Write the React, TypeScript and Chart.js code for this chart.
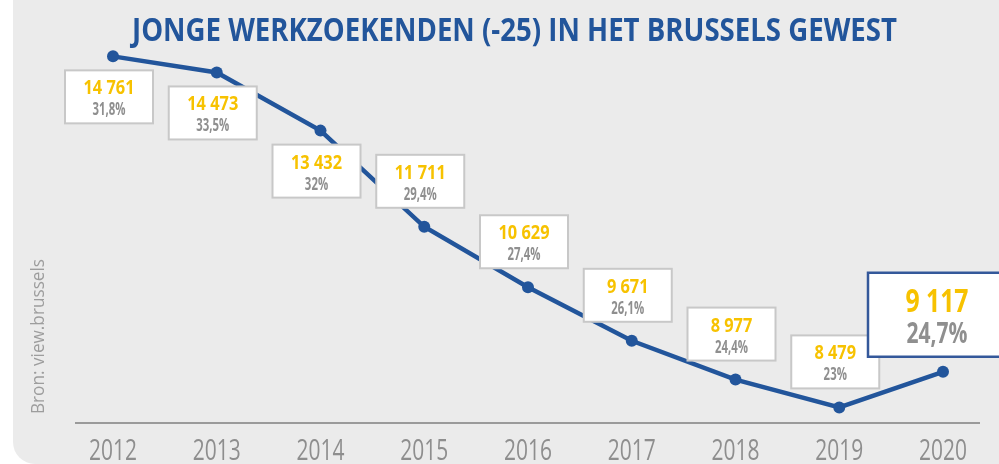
import React, { useEffect, useRef } from "react";
import { Chart, registerables } from "chart.js";

Chart.register(...registerables);

const years = ["2012", "2013", "2014", "2015", "2016", "2017", "2018", "2019", "2020"];
const jobseekers = [14761, 14473, 13432, 11711, 10629, 9671, 8977, 8479, 9117];
const shares = ["31,8%", "33,5%", "32%", "29,4%", "27,4%", "26,1%", "24,4%", "23%", "24,7%"];
const labelBelow = [true, true, true, false, false, false, false, false, false];
const titleText = "JONGE WERKZOEKENDEN (-25) IN HET BRUSSELS GEWEST";
const sourceText = "Bron: view.brussels";

const FONT = '"Open Sans", "Noto Sans", sans-serif';
const BLUE = "#22559b";
const YELLOW = "#f7c200";
const GREY_TXT = "#8f8f8f";

const fmt = (v: number) => String(v).replace(/\B(?=(\d{3})+(?!\d))/g, " ");

// draw text compressed horizontally by factor sx
const drawScaled = (ctx: CanvasRenderingContext2D, text: string, x: number, y: number, sx: number) => {
  ctx.save();
  ctx.translate(x, y);
  ctx.scale(sx, 1);
  ctx.fillText(text, 0, 0);
  ctx.restore();
};

// factor so that sample text gets a target width with the current font
const factorFor = (ctx: CanvasRenderingContext2D, sample: string, width: number) =>
  width / ctx.measureText(sample).width;

const decorPlugin = {
  id: "decor",
  afterDraw(chart: any) {
    const ctx: CanvasRenderingContext2D = chart.ctx;
    const area = chart.chartArea;
    const xs = chart.scales.x;
    // title
    ctx.save();
    ctx.fillStyle = BLUE;
    ctx.font = `bold 33px ${FONT}`;
    ctx.textAlign = "center";
    ctx.textBaseline = "alphabetic";
    drawScaled(ctx, titleText, 514.5, 41, factorFor(ctx, titleText, 765));
    ctx.restore();
    // source (rotated)
    ctx.save();
    ctx.fillStyle = "#9d9d9d";
    ctx.font = `19px ${FONT}`;
    ctx.textAlign = "left";
    ctx.textBaseline = "alphabetic";
    ctx.translate(44, 414);
    ctx.rotate(-Math.PI / 2);
    drawScaled(ctx, sourceText, 0, 0, factorFor(ctx, sourceText, 155));
    ctx.restore();
    // baseline axis line
    ctx.save();
    ctx.strokeStyle = "#9a9a9a";
    ctx.lineWidth = 2;
    ctx.beginPath();
    ctx.moveTo(75, area.bottom);
    ctx.lineTo(980, area.bottom);
    ctx.stroke();
    ctx.restore();
    // category labels (condensed), positioned by the x scale
    ctx.save();
    ctx.fillStyle = "#8e8e8e";
    ctx.font = `30px ${FONT}`;
    ctx.textAlign = "center";
    ctx.textBaseline = "alphabetic";
    const f = factorFor(ctx, "2012", 48);
    years.forEach((yr, i) => {
      drawScaled(ctx, yr, xs.getPixelForValue(i), area.bottom + 37, f);
    });
    ctx.restore();
  },
};

const boxesPlugin = {
  id: "boxes",
  afterDatasetsDraw(chart: any) {
    const ctx: CanvasRenderingContext2D = chart.ctx;
    const meta = chart.getDatasetMeta(0);
    const n = meta.data.length;
    ctx.save();
    ctx.font = `bold 20px ${FONT}`;
    const fNum = factorFor(ctx, "14 761", 51);
    ctx.font = `bold 17px ${FONT}`;
    const fPct = factorFor(ctx, "31,8%", 33);
    ctx.font = `bold 33px ${FONT}`;
    const fBigNum = factorFor(ctx, "9 117", 63);
    ctx.font = `bold 28px ${FONT}`;
    const fBigPct = factorFor(ctx, "24,7%", 61);
    ctx.restore();
    meta.data.forEach((pt: any, i: number) => {
      const { x, y } = pt.getProps(["x", "y"], true);
      const last = i === n - 1;
      let w: number, h: number, left: number, top: number;
      if (last) {
        w = 138; h = 84; left = x - 75; top = y - 99;
      } else {
        w = 88; h = 53; left = x - 48; top = labelBelow[i] ? y + 14 : y - 19 - h;
      }
      ctx.save();
      ctx.fillStyle = "#ffffff";
      ctx.fillRect(left, top, w, h);
      ctx.lineWidth = last ? 2.5 : 2;
      ctx.strokeStyle = last ? "#34589a" : "#c8c8c8";
      ctx.strokeRect(left, top, w, h);
      ctx.textAlign = "center";
      ctx.textBaseline = "alphabetic";
      const cx = left + w / 2;
      if (last) {
        ctx.fillStyle = YELLOW;
        ctx.font = `bold 33px ${FONT}`;
        drawScaled(ctx, fmt(jobseekers[i]), cx, top + 39, fBigNum);
        ctx.fillStyle = GREY_TXT;
        ctx.font = `bold 28px ${FONT}`;
        drawScaled(ctx, shares[i], cx, top + 70, fBigPct);
      } else {
        ctx.fillStyle = YELLOW;
        ctx.font = `bold 20px ${FONT}`;
        drawScaled(ctx, fmt(jobseekers[i]), cx, top + 24, fNum);
        ctx.fillStyle = GREY_TXT;
        ctx.font = `bold 17px ${FONT}`;
        drawScaled(ctx, shares[i], cx, top + 45, fPct);
      }
      ctx.restore();
    });
  },
};

export default function App() {
  const ref = useRef<HTMLCanvasElement>(null);
  useEffect(() => {
    if (!ref.current) return;
    const chart = new Chart(ref.current, {
      type: "line",
      data: {
        labels: years,
        datasets: [
          {
            data: jobseekers,
            borderColor: BLUE,
            backgroundColor: BLUE,
            borderWidth: 4.5,
            pointRadius: 6,
            pointHoverRadius: 6,
            pointBackgroundColor: BLUE,
            pointBorderWidth: 0,
            tension: 0,
          },
        ],
      },
      options: {
        responsive: false,
        animation: false,
        layout: { padding: { left: 113, right: 56, top: 43, bottom: 0 } },
        plugins: { legend: { display: false }, tooltip: { enabled: false }, title: { display: false } },
        scales: {
          x: {
            offset: false,
            grid: { display: false, drawTicks: false },
            border: { display: false },
            ticks: { display: false },
            afterFit: (scale: any) => {
              scale.height = 41;
            },
          },
          y: { display: false, min: 8200, max: 15000 },
        },
      },
      plugins: [decorPlugin, boxesPlugin],
    });
    return () => chart.destroy();
  }, []);
  return (
    <div style={{ position: "fixed", left: 0, top: 0, width: 999, height: 464, background: "#ffffff", overflow: "hidden" }}>
      <div
        style={{
          position: "absolute",
          left: 13,
          top: 0,
          width: 986,
          height: 464,
          background: "#ebebeb",
          borderBottomLeftRadius: 22,
        }}
      />
      <canvas ref={ref} width={999} height={464} style={{ position: "absolute", left: 0, top: 0, width: 999, height: 464 }} />
    </div>
  );
}
